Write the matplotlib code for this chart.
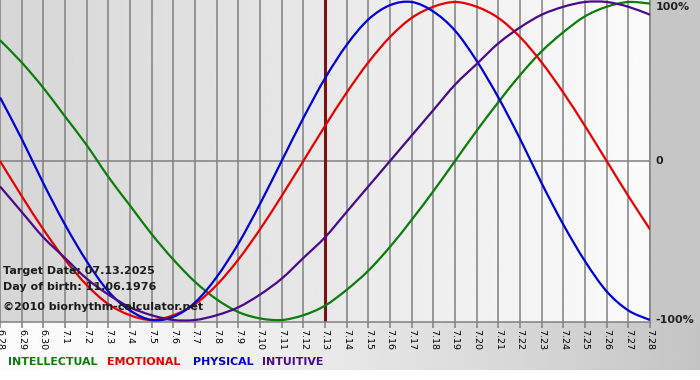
import matplotlib.pyplot as plt
from matplotlib.path import Path
from matplotlib.patches import PathPatch
import numpy as np

# days shown on the x axis (6.28 .. 7.28)
day_labels = ['6.28', '6.29', '6.30'] + [f'7.{d}' for d in range(1, 29)]
target_idx = 15  # 7.13

# cycle values, one per day (-1 .. 1)
intellectual = [0.76, 0.62, 0.46, 0.28, 0.10, -0.10, -0.28, -0.46, -0.62, -0.76,
                -0.87, -0.95, -0.99, -1.00, -0.97, -0.91, -0.81, -0.69, -0.54, -0.37,
                -0.19, 0.00, 0.19, 0.37, 0.54, 0.69, 0.81, 0.91, 0.97, 1.00, 0.99]
emotional = [0.00, -0.22, -0.43, -0.62, -0.78, -0.90, -0.97, -1.00, -0.97, -0.90,
             -0.78, -0.62, -0.43, -0.22, 0.00, 0.22, 0.43, 0.62, 0.78, 0.90,
             0.97, 1.00, 0.97, 0.90, 0.78, 0.62, 0.43, 0.22, 0.00, -0.22, -0.43]
physical = [0.40, 0.14, -0.14, -0.40, -0.63, -0.82, -0.94, -1.00, -0.98, -0.89,
            -0.73, -0.52, -0.27, 0.00, 0.27, 0.52, 0.73, 0.89, 0.98, 1.00,
            0.94, 0.82, 0.63, 0.40, 0.14, -0.14, -0.40, -0.63, -0.82, -0.94, -1.00]
intuitive = [-0.16, -0.32, -0.48, -0.61, -0.74, -0.84, -0.92, -0.97, -1.00, -1.00,
             -0.97, -0.92, -0.84, -0.74, -0.61, -0.48, -0.32, -0.16, 0.00, 0.16,
             0.32, 0.48, 0.61, 0.74, 0.84, 0.92, 0.97, 1.00, 1.00, 0.97, 0.92]

series = [
    ('INTELLECTUAL', intellectual, '#0b7d0b'),
    ('EMOTIONAL', emotional, '#e80000'),
    ('PHYSICAL', physical, '#0000d8'),
    ('INTUITIVE', intuitive, '#4b0a88'),
]


def smooth_path(xs, ys):
    # bezier curve through the daily points (catmull-rom style handles)
    pts = np.column_stack([xs, ys]).astype(float)
    verts = [pts[0]]
    codes = [Path.MOVETO]
    for i in range(len(pts) - 1):
        p0 = pts[max(i - 1, 0)]
        p1 = pts[i]
        p2 = pts[i + 1]
        p3 = pts[min(i + 2, len(pts) - 1)]
        verts += [p1 + (p2 - p0) / 6, p2 - (p3 - p1) / 6, p2]
        codes += [Path.CURVE4] * 3
    return Path(verts, codes)


W, H = 700, 380
fig = plt.figure(figsize=(W / 100, H / 100), dpi=100, facecolor='white')

# background: grey right margin and a light-to-grey band under the plot
bg = fig.add_axes([0, 0, 1, 1], zorder=-5)
bg.set_xlim(0, W)
bg.set_ylim(H, 0)
bg.axis('off')
t = np.linspace(0, 1, 300) ** 1.4
band = (252 - 56 * t) / 255
bg.imshow(np.tile(band, (2, 1)), cmap='gray', vmin=0, vmax=1,
          extent=[0, W, 370, 321], aspect='auto', interpolation='bilinear')
bg.add_patch(plt.Rectangle((650, 0), 50, 322, color='#c6c6c6', lw=0))

# plot area
ax = fig.add_axes([0, 1 - 322 / H, 650 / W, 322 / H])
n = len(day_labels)
ax.set_xlim(0, n - 1)
ax.set_ylim(-1.0126, 1.0126)

shade = np.linspace(214, 251, 400) / 255
ax.imshow(np.tile(shade, (2, 1)), cmap='gray', vmin=0, vmax=1,
          extent=[0, n - 1, -1.0126, 1.0126], aspect='auto', zorder=0)

for i in range(n):
    ax.axvline(i, color='#808080', lw=1.1, zorder=1)
ax.axhline(0, color='#808080', lw=1.1, zorder=1)

ax.axvline(target_idx, color='#7a1212', lw=2.2, zorder=2)

for name, vals, col in series:
    ax.add_patch(PathPatch(smooth_path(range(n), vals), fill=False,
                           edgecolor=col, lw=1.6, zorder=3))

for s in ['top', 'left']:
    ax.spines[s].set_visible(False)
ax.spines['bottom'].set_color('#808080')
ax.spines['bottom'].set_linewidth(1.1)
ax.spines['right'].set_color('#808080')
ax.spines['right'].set_linewidth(1.1)

ax.set_xticks(range(n))
ax.set_xticklabels(day_labels, rotation=270, fontsize=6.8)
ax.tick_params(axis='x', length=4, color='#808080', width=1.1, pad=1)
ax.set_yticks([])

# right side labels
for val, lab in [(0.97, '100%'), (0, '0'), (-1.0, '-100%')]:
    ax.text(n - 1 + 0.25, val, lab, fontsize=8, fontweight='bold',
            color='#222222', va='center', ha='left', clip_on=False)

# info text inside the plot
info = [(271, 'Target Date: 07.13.2025'),
        (287, 'Day of birth: 11.06.1976'),
        (307, '\u00a92010 biorhythm-calculator.net')]
for y, txt in info:
    fig.text(3 / W, 1 - y / H, txt, fontsize=8, fontweight='bold',
             color='#1c1c1c', va='center', ha='left')

# legend
leg_x = [8, 107, 193, 262]
for (name, vals, col), x in zip(series, leg_x):
    fig.text(x / W, 1 - 362 / H, name, fontsize=7.9, fontweight='bold',
             color=col, va='center', ha='left')

fig.savefig('out.png', dpi=100)
